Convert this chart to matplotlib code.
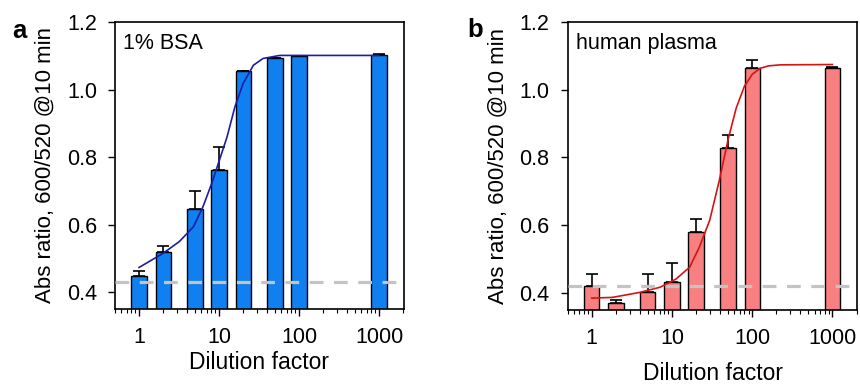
import numpy as np
import matplotlib
matplotlib.use("Agg")
import matplotlib.pyplot as plt
from matplotlib.ticker import FixedLocator, FixedFormatter, LogLocator, NullFormatter

plt.rcParams['font.family'] = ['Liberation Sans', 'DejaVu Sans']
plt.rcParams['font.size'] = 15.5

# dilution factors (same for both panels)
dilution = [1, 2, 5, 10, 20, 50, 100, 1000]

# panel a: 1% BSA
bsa_vals = [0.448, 0.520, 0.647, 0.761, 1.054, 1.092, 1.099, 1.103]
bsa_err = [0.015, 0.018, 0.052, 0.069, 0.002, 0.0, 0.0, 0.003]
bsa_base = 0.430
# fitted curve
bsa_fit_x = [1, 2.0, 3.2, 4.8, 6.3, 8.1, 9.8, 12.6, 15.8, 20.0, 26.9, 35.5, 57.5, 100, 1000]
bsa_fit_y = [0.473, 0.515, 0.550, 0.594, 0.653, 0.722, 0.781, 0.860, 0.949, 1.018, 1.072, 1.092, 1.101, 1.101, 1.101]

# panel b: human plasma
pl_vals = [0.422, 0.370, 0.403, 0.431, 0.580, 0.829, 1.064, 1.063]
pl_err = [0.035, 0.010, 0.054, 0.058, 0.037, 0.038, 0.023, 0.003]
pl_base = 0.422
pl_fit_x = [1, 1.8, 4.0, 7.1, 11.2, 16.6, 21.9, 29.5, 38.9, 50.1, 63.1, 80.0, 100, 126, 160, 224, 1000]
pl_fit_y = [0.385, 0.387, 0.402, 0.417, 0.441, 0.476, 0.535, 0.614, 0.732, 0.853, 0.945, 1.010, 1.045, 1.063, 1.070, 1.073, 1.074]


def panel(ax, vals, err, base, fx, fy, color, lcolor, label, xpad):
    x = np.array(dilution, dtype=float)
    k = 10 ** 0.095
    ax.bar(x / k, vals, width=x * k - x / k, align='edge', color=color,
           edgecolor='black', linewidth=1.0, zorder=2)
    ax.errorbar(x, vals, yerr=[np.zeros(len(x)), err], fmt='none',
                ecolor='black', elinewidth=1.2, capsize=4, capthick=1.2, zorder=3)
    ax.plot(fx, fy, color=lcolor, lw=1.2, zorder=4)
    ax.axhline(base, color='#c4c4c4', lw=2.3, dashes=(4.3, 3.3), zorder=5)
    ax.set_xscale('log')
    ax.set_xlim(0.5, 2050)
    ax.set_ylim(0.35, 1.2)
    ax.xaxis.set_major_locator(FixedLocator([1, 10, 100, 1000]))
    ax.xaxis.set_major_formatter(FixedFormatter(['1', '10', '100', '1000']))
    ax.xaxis.set_minor_locator(LogLocator(base=10, subs=np.arange(2, 10)))
    ax.xaxis.set_minor_formatter(NullFormatter())
    ax.set_yticks([0.4, 0.6, 0.8, 1.0, 1.2])
    ax.set_yticklabels(['0.4', '0.6', '0.8', '1.0', '1.2'])
    ax.tick_params(axis='both', which='major', direction='out', length=5, width=1, pad=8)
    ax.tick_params(axis='x', which='minor', direction='out', length=3, width=0.8)
    for s in ax.spines.values():
        s.set_linewidth(1.2)
    ax.set_xlabel('Dilution factor', labelpad=xpad, fontsize=16.5)
    ax.set_ylabel('Abs ratio, 600/520 @10 min', labelpad=8, fontsize=16)
    ax.text(0.028, 0.905, label, transform=ax.transAxes, va='baseline', ha='left')
    return ax


fig = plt.figure(figsize=(8.6, 3.86), dpi=100)
ax1 = fig.add_axes([0.1337, 0.1995, 0.336, 0.7435])
ax2 = fig.add_axes([0.660, 0.1970, 0.337, 0.7465])
panel(ax1, bsa_vals, bsa_err, bsa_base, bsa_fit_x, bsa_fit_y, '#1080f0', '#1c1ca8', '1% BSA', 2)
panel(ax2, pl_vals, pl_err, pl_base, pl_fit_x, pl_fit_y, '#f98080', '#d41414', 'human plasma', 9)
fig.text(19 / 860, 1 - 31 / 386, 'a', fontweight='bold', fontsize=18.5, ha='center', va='center')
fig.text(475 / 860, 1 - 30 / 386, 'b', fontweight='bold', fontsize=18.5, ha='center', va='center')

fig.savefig('out.png', dpi=100)
